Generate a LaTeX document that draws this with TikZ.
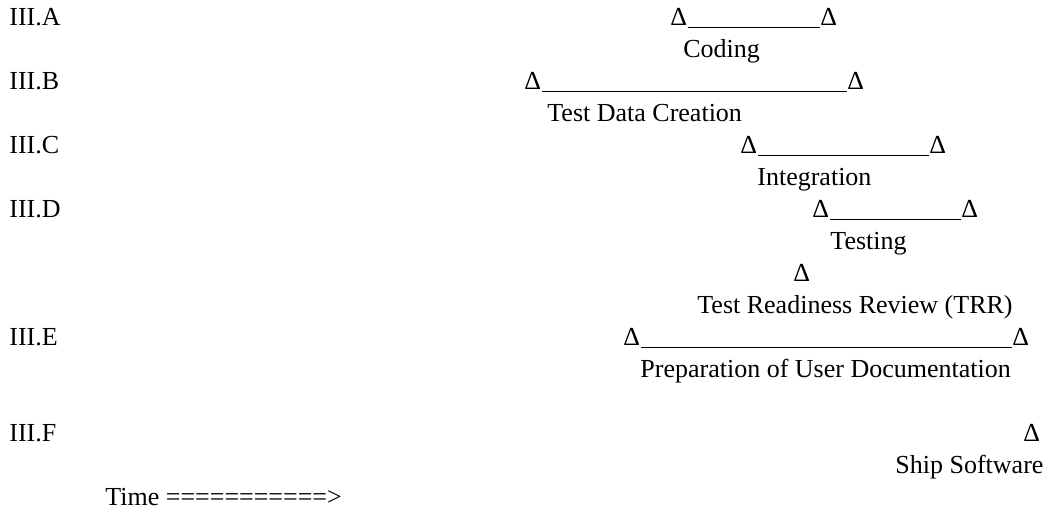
\documentclass[tikz,border=0pt]{standalone}
\usepackage{fontspec}
\setmainfont{Liberation Serif}
\usepackage{tikz}

\tikzset{
  txt/.style={anchor=base west, inner sep=0pt, font=\fontsize{13}{16}\selectfont},
  tri/.style={txt},
  bar/.style={line width=0.6pt}
}

\begin{document}
\begin{tikzpicture}[x=0.5pt, y=-0.5pt]
  \useasboundingbox (0,0) rectangle (1050,512);

  % Draw the row labels
  \foreach \r/\y in {A/25.7, B/89.7, C/153.7, D/217.7, E/345.7, F/441.7} {
    \node[txt] (lbl\r) at (9,\y) {III.\r};
  }

  % Coding
  \node[tri] (codS) at (670,25.7) {Δ};
  \node[tri] (codE) at (820,25.7) {Δ};
  \node[txt] (cod) at (683,57.7) {Coding};

  % Test data creation
  \node[tri] (tdcS) at (524,89.7) {Δ};
  \node[tri] (tdcE) at (847,89.7) {Δ};
  \node[txt] (tdc) at (547,121.7) {Test Data Creation};

  % Integration
  \node[tri] (intS) at (740,153.7) {Δ};
  \node[tri] (intE) at (929,153.7) {Δ};
  \node[txt] (int) at (757,185.7) {Integration};

  % Testing
  \node[tri] (tstS) at (812,217.7) {Δ};
  \node[tri] (tstE) at (961,217.7) {Δ};
  \node[txt] (tst) at (830,249.7) {Testing};

  % Test readiness review (milestone)
  \node[tri] (trrM) at (793,281.7) {Δ};
  \node[txt] (trr) at (697,313.7) {Test Readiness Review (TRR)};

  % User documentation
  \node[tri] (docS) at (623,345.7) {Δ};
  \node[tri] (docE) at (1012,345.7) {Δ};
  \node[txt] (doc) at (640,377.7) {Preparation of User Documentation};

  % Ship software (milestone)
  \node[tri] (shpM) at (1023,441.7) {Δ};
  \node[txt] (shp) at (895,473.7) {Ship Software};

  % Time axis
  \node[txt] (time) at (105,505.7) {Time ===========>};

  % Draw the bars between start and end marks
  \foreach \a in {cod, tdc, int, tst, doc} {
    \draw[bar] ([yshift=-0.8pt]\a S.base east) -- ([yshift=-0.8pt]\a E.base west);
  }
\end{tikzpicture}
\end{document}
